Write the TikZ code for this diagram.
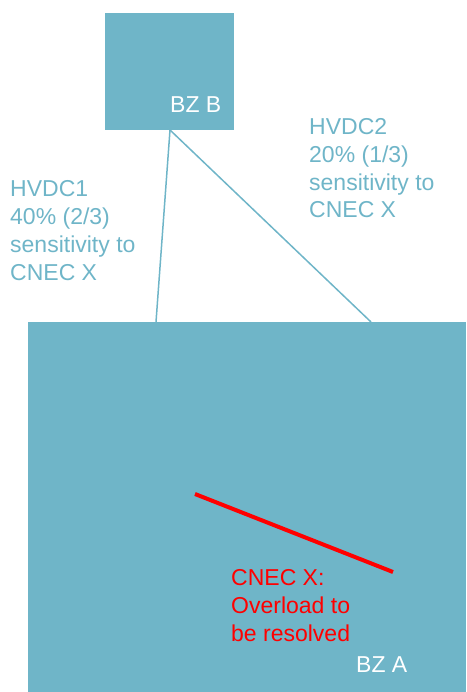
\documentclass[tikz,border=0pt]{standalone}
\usepackage{fontspec}
\setmainfont{Liberation Sans}
\definecolor{zoneblue}{RGB}{111,181,200}
\definecolor{cnecred}{RGB}{255,0,0}
\tikzset{
  zone/.style={fill=zoneblue, inner sep=0pt, anchor=north west},
  zonelabel/.style={anchor=base west, inner sep=0pt, text=white, font=\fontsize{23}{28}\selectfont},
  hvdclabel/.style={anchor=base west, inner sep=0pt, align=left, text=zoneblue, font=\fontsize{23}{27.7}\selectfont},
  hvdc/.style={draw=zoneblue, line width=1.5pt}
}

\begin{document}
\begin{tikzpicture}[x=1pt,y=-1pt]
  \useasboundingbox (0,0) rectangle (466,692);
  % bidding zones
  \node[zone, minimum width=129pt, minimum height=117pt] (bzb) at (105,13) {};
  \node[zone, minimum width=438pt, minimum height=370pt] (bza) at (28,322) {};
  \node[zonelabel] (bzbname) at (170,113) {BZ B};
  \node[zonelabel] (bzaname) at (356,672) {BZ A};

  % HVDC links
  \coordinate (hub) at (170,130);
  \coordinate (end1) at (156,322);
  \coordinate (end2) at (371,322);
  \draw[hvdc] (hub) -- (end1);
  \draw[hvdc] (hub) -- (end2);
  % labels placed by their last baseline
  \node[hvdclabel] (hvdc1) at (10,280) {HVDC1\\40\% (2/3)\\sensitivity to\\CNEC X};
  \node[hvdclabel] (hvdc2) at (309,218) {HVDC2\\20\% (1/3)\\sensitivity to\\CNEC X};

  % overloaded element
  \coordinate (cnecA) at (195,494);
  \coordinate (cnecB) at (393,572);
  \draw[cnecred, line width=4pt] (cnecA) -- (cnecB);
  \node[hvdclabel, text=cnecred] (cnec) at (231,641) {CNEC X:\\Overload to\\be resolved};
\end{tikzpicture}
\end{document}
